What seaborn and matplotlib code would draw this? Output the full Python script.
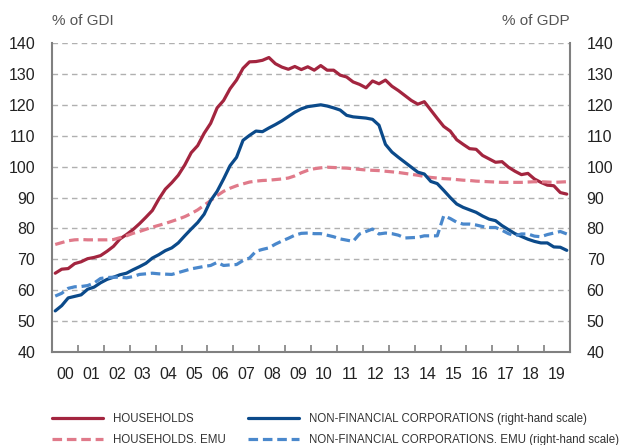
"""
Debt of households and non-financial corporations, Spain vs EMU
"""
import numpy as np
import pandas as pd
import seaborn as sns
import matplotlib.pyplot as plt
from matplotlib.ticker import FixedLocator, NullFormatter, FixedFormatter

# Quarterly values 2000Q1 .. 2019Q4.
households = [
    65.5, 66.8, 67.0, 68.6, 69.2, 70.2, 70.6, 71.2,
    72.6, 74.2, 76.6, 78.0, 79.6, 81.5, 83.6, 85.8,
    89.5, 92.7, 94.8, 97.2, 100.5, 104.5, 106.8, 110.8,
    114.0, 119.0, 121.4, 125.2, 128.0, 131.8, 133.9, 134.0,
    134.4, 135.3, 133.3, 132.2, 131.5, 132.4, 131.4, 132.3,
    131.2, 132.7, 131.2, 131.2, 129.6, 129.0, 127.4, 126.6,
    125.5, 127.7, 126.8, 128.0, 126.0, 124.6, 123.0, 121.4,
    120.2, 121.0, 118.3, 115.6, 113.0, 111.5, 108.7, 107.2,
    105.8, 105.6, 103.6, 102.5, 101.4, 101.6, 99.8, 98.5,
    97.4, 97.8, 96.0, 94.9, 94.0, 93.8, 91.6, 91.1,
]
households_emu = [
    74.8, 75.4, 76.0, 76.3, 76.4, 76.3, 76.3, 76.3,
    76.3, 76.4, 77.0, 77.6, 78.4, 79.0, 79.7, 80.4,
    81.0, 81.6, 82.3, 83.0, 83.8, 84.8, 86.0, 87.5,
    89.0, 90.6, 92.0, 93.0, 93.8, 94.4, 95.0, 95.3,
    95.5, 95.6, 95.8, 96.0, 96.3, 97.0, 98.0, 98.8,
    99.3, 99.6, 99.8, 99.7, 99.6, 99.5, 99.3, 99.1,
    98.9, 98.8, 98.7, 98.5, 98.3, 98.1, 97.8, 97.5,
    97.2, 96.8, 96.5, 96.3, 96.1, 96.0, 95.8, 95.6,
    95.5, 95.3, 95.2, 95.1, 95.0, 94.9, 94.9, 94.9,
    94.9, 95.0, 95.1, 95.1, 95.0, 94.9, 95.0, 95.1,
]
nfc = [
    53.3, 55.0, 57.5, 58.0, 58.5, 60.3, 61.0, 62.4,
    63.5, 64.2, 65.0, 65.5, 66.6, 67.6, 68.7, 70.4,
    71.5, 72.8, 73.7, 75.3, 77.6, 79.8, 81.9, 84.6,
    89.0, 92.0, 96.0, 100.3, 103.0, 108.5, 110.1, 111.5,
    111.3, 112.5, 113.6, 114.8, 116.2, 117.6, 118.7, 119.4,
    119.7, 120.0, 119.6, 119.0, 118.3, 116.6, 116.1, 115.9,
    115.7, 115.3, 113.4, 107.2, 104.7, 103.0, 101.4, 99.8,
    98.2, 97.6, 95.2, 94.5, 92.3, 90.0, 87.9, 86.8,
    86.0, 85.2, 84.0, 83.0, 82.5, 80.9, 79.6, 78.3,
    77.4, 76.5, 75.8, 75.3, 75.3, 74.0, 73.9, 72.9,
]
nfc_emu = [
    58.1, 59.0, 60.6, 61.1, 61.2, 61.5, 62.3, 63.8,
    64.1, 64.2, 64.2, 64.0, 64.4, 65.1, 65.3, 65.5,
    65.3, 65.2, 65.1, 65.7, 66.3, 66.9, 67.3, 67.7,
    68.0, 69.0, 68.0, 68.2, 68.3, 69.6, 70.4, 72.6,
    73.2, 73.7, 74.9, 75.9, 76.8, 77.8, 78.4, 78.5,
    78.3, 78.3, 77.8, 77.3, 76.6, 76.2, 75.8, 78.2,
    79.0, 79.8, 78.2, 78.5, 78.3, 77.8, 76.9, 77.0,
    77.1, 77.6, 77.6, 77.6, 84.1, 83.2, 82.0, 81.4,
    81.4, 81.1, 80.6, 80.3, 80.3, 79.4, 78.3, 77.6,
    78.2, 78.2, 77.5, 77.3, 78.0, 78.5, 79.0, 78.2,
]
years = list(range(2000, 2020))
year_labels = [f"{y % 100:02d}" for y in years]
y_ticks = [40, 50, 60, 70, 80, 90, 100, 110, 120, 130, 140]

RED = "#A3253F"
PINK = "#E07A8A"
BLUE = "#0B4A8A"
LIGHTBLUE = "#4A88CC"
GREY = "#808080"
DASH = (0, (3, 1.5))

# Quarter mid-points on a year axis.
date = 2000 + (np.arange(len(households)) + 0.5) / 4
df = pd.DataFrame({"date": date, "hh": households, "hh_emu": households_emu,
                   "nfc": nfc, "nfc_emu": nfc_emu})

sns.set_style("white")
plt.rcParams["font.family"] = ["Liberation Sans", "DejaVu Sans"]

fig = plt.figure(figsize=(6.21, 4.45), dpi=100)
ax = fig.add_axes([52 / 621, 1 - 352 / 445, 518 / 621, 309 / 445])
ax2 = ax.twinx()

# Households on the left scale.
sns.lineplot(data=df, x="date", y="hh", color=RED, linewidth=2.3,
             label="HOUSEHOLDS", ax=ax, legend=False)
sns.lineplot(data=df, x="date", y="hh_emu", color=PINK, linewidth=2.3,
             linestyle=DASH, label="HOUSEHOLDS. EMU", ax=ax, legend=False)

# Corporations on the right scale.
sns.lineplot(data=df, x="date", y="nfc", color=BLUE, linewidth=2.3,
             label="NON-FINANCIAL CORPORATIONS (right-hand scale)",
             ax=ax2, legend=False)
sns.lineplot(data=df, x="date", y="nfc_emu", color=LIGHTBLUE, linewidth=2.3,
             linestyle=DASH,
             label="NON-FINANCIAL CORPORATIONS. EMU (right-hand scale)",
             ax=ax2, legend=False)

for a in (ax, ax2):
    a.set_xlim(2000, 2020)
    a.set_ylim(40, 140)
    a.set_yticks(y_ticks)
    a.set_xlabel("")
    a.set_ylabel("")
    for s in a.spines.values():
        s.set_visible(False)

# Spines.
for side in ("left", "bottom", "right"):
    ax.spines[side].set_visible(True)
    ax.spines[side].set_color(GREY)
    ax.spines[side].set_linewidth(1.5)

# Horizontal dashed grid.
for v in y_ticks[1:]:
    ax.axhline(v, color="#b0b0b0", linewidth=1, linestyle=(0, (4, 3)),
               zorder=0)

# X ticks: marks at year boundaries, labels at mid-year.
ax.xaxis.set_major_locator(FixedLocator(years + [2020]))
ax.xaxis.set_major_formatter(NullFormatter())
ax.xaxis.set_minor_locator(FixedLocator([y + 0.5 for y in years]))
ax.xaxis.set_minor_formatter(FixedFormatter(year_labels))
ax.tick_params(axis="x", which="major", direction="in", length=5,
               width=1.2, color=GREY, bottom=True)
ax.tick_params(axis="x", which="minor", length=0, pad=11, labelsize=11.5,
               labelcolor="#222222")
ax2.tick_params(axis="x", which="both", bottom=False, labelbottom=False)

ax.tick_params(axis="y", length=0, pad=12, labelsize=11.5,
               labelcolor="#222222")
ax2.tick_params(axis="y", length=0, pad=12, labelsize=11.5,
                labelcolor="#222222")

fig.text(52 / 621, 1 - 21 / 445, "% of GDI", fontsize=11, color="#555555",
         va="center", ha="left")
fig.text(570 / 621, 1 - 21 / 445, "% of GDP", fontsize=11, color="#555555",
         va="center", ha="right")

# Legend below the plot.
h1, l1 = ax.get_legend_handles_labels()
h2, l2 = ax2.get_legend_handles_labels()
fig.legend(h1 + h2, l1 + l2, ncol=2, loc="upper left",
           bbox_to_anchor=(52 / 621, 1 - 413 / 445), frameon=False,
           borderpad=0, borderaxespad=0, handlelength=4.45,
           handletextpad=0.87, columnspacing=1.9, labelspacing=0.8,
           prop={"family": ["Liberation Sans"], "size": 8.3},
           labelcolor="#333333")

plt.savefig("out.png", dpi=100)
